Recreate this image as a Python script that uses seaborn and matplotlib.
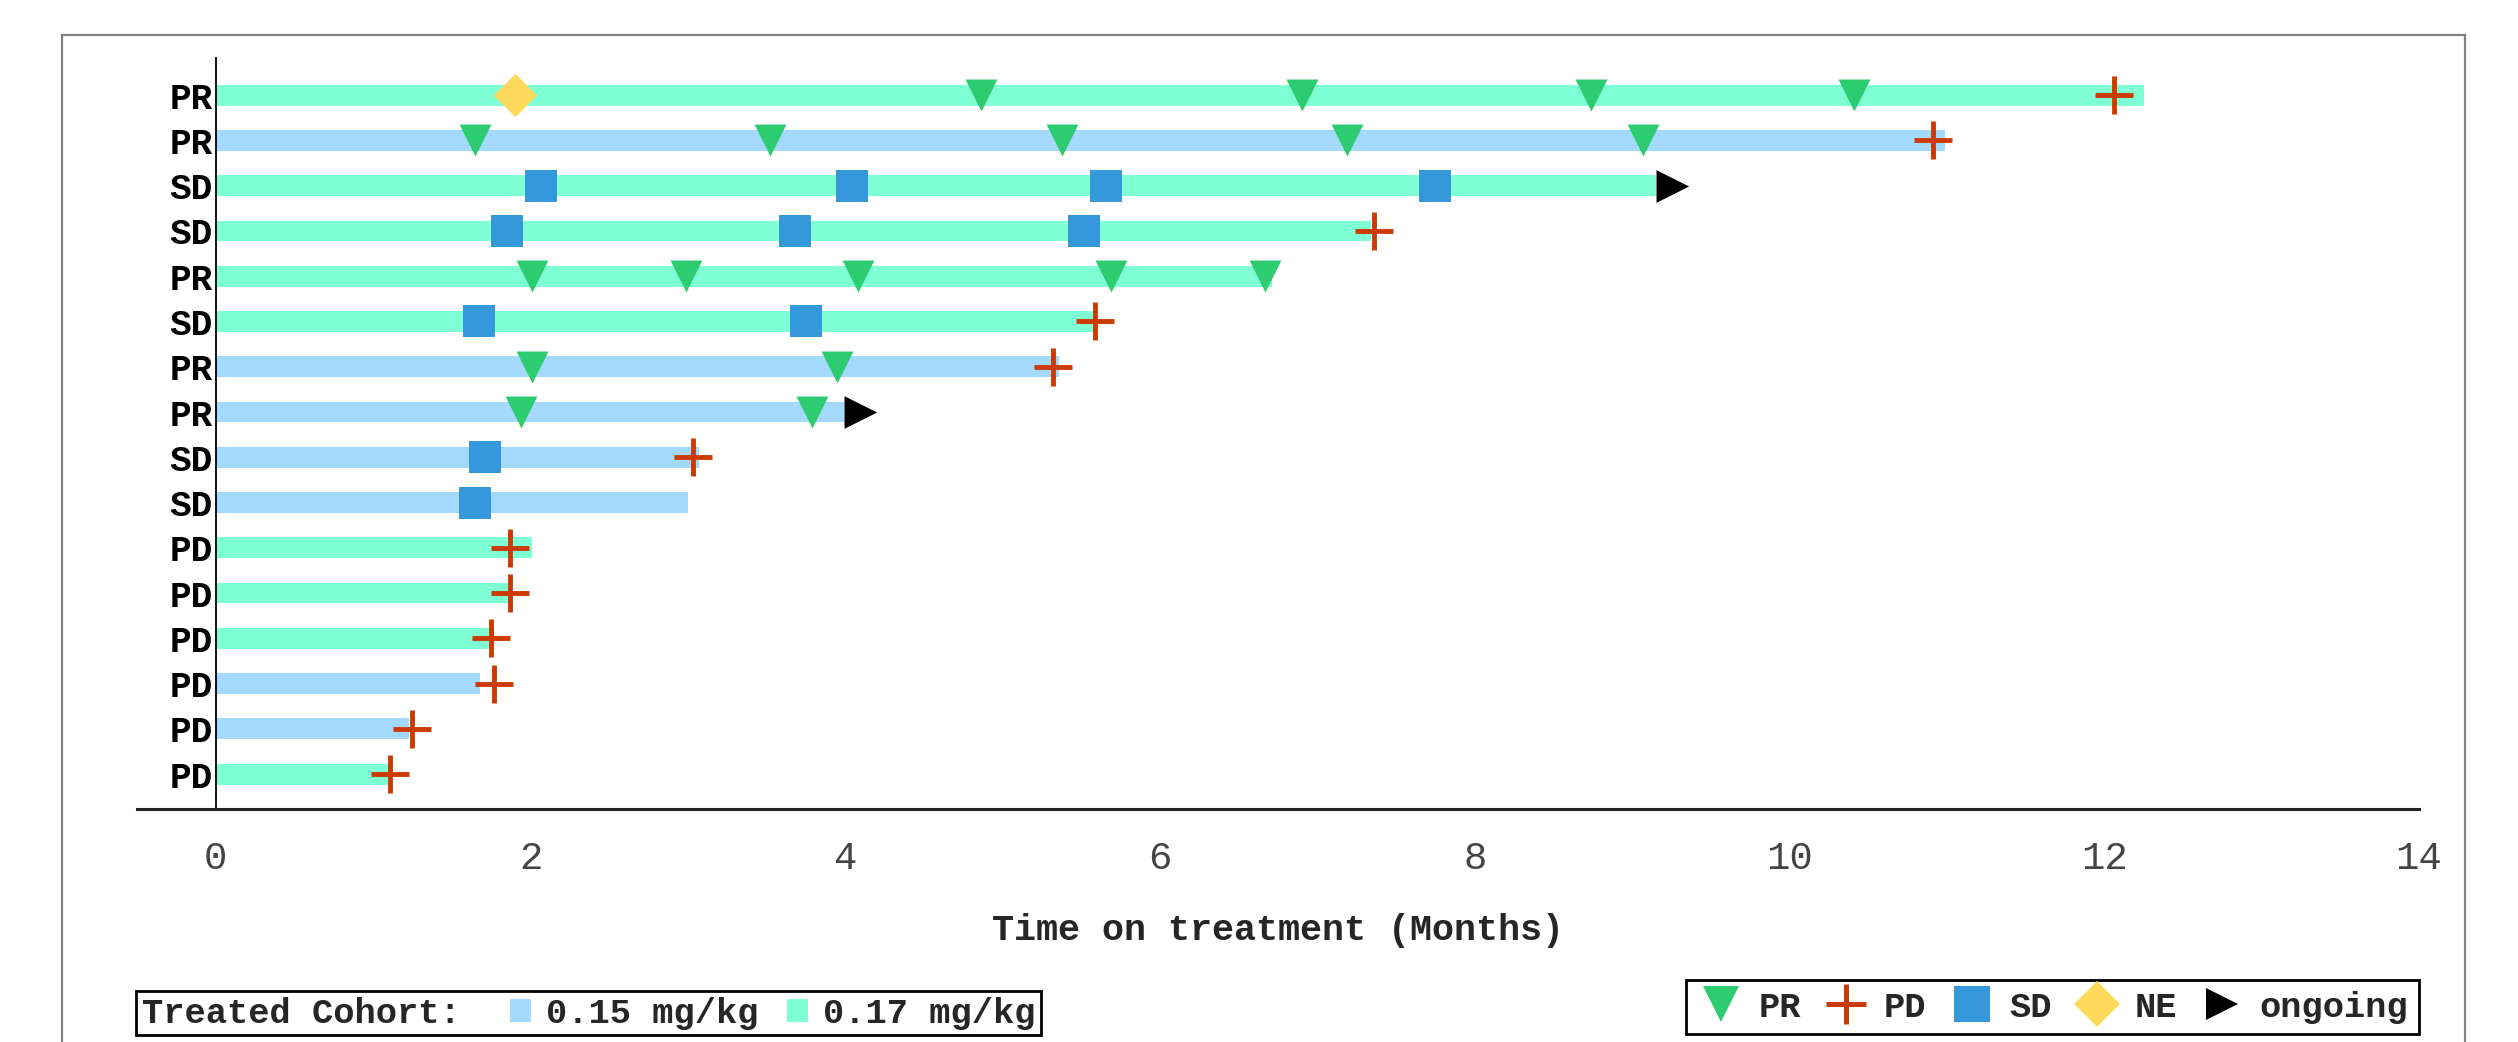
import matplotlib
matplotlib.use("Agg")
import matplotlib.pyplot as plt
import numpy as np
import pandas as pd
import seaborn as sns
from matplotlib.lines import Line2D
from matplotlib.patches import Patch, Rectangle

# --- data (months) ---
best_response = ['PR', 'PR', 'SD', 'SD', 'PR', 'SD', 'PR', 'PR',
                 'SD', 'SD', 'PD', 'PD', 'PD', 'PD', 'PD', 'PD']
cohort = ['0.17 mg/kg', '0.15 mg/kg', '0.17 mg/kg', '0.17 mg/kg',
          '0.17 mg/kg', '0.17 mg/kg', '0.15 mg/kg', '0.15 mg/kg',
          '0.15 mg/kg', '0.15 mg/kg', '0.17 mg/kg', '0.17 mg/kg',
          '0.17 mg/kg', '0.15 mg/kg', '0.15 mg/kg', '0.17 mg/kg']
duration = [12.25, 10.99, 9.15, 7.34, 6.71, 5.60, 5.36, 3.99,
            3.07, 3.00, 2.01, 1.88, 1.77, 1.68, 1.23, 1.11]

pr_rows = [0, 0, 0, 0, 1, 1, 1, 1, 1, 4, 4, 4, 4, 4, 6, 6, 7, 7]
pr_time = [4.86, 6.90, 8.74, 10.41, 1.65, 3.52, 5.38, 7.19, 9.07,
           2.01, 2.99, 4.08, 5.69, 6.67, 2.01, 3.95, 1.94, 3.79]

sd_rows = [2, 2, 2, 2, 3, 3, 3, 5, 5, 8, 9]
sd_time = [2.07, 4.04, 5.66, 7.75, 1.85, 3.68, 5.52, 1.67, 3.75, 1.71, 1.65]

pd_rows = [0, 1, 3, 5, 6, 8, 10, 11, 12, 13, 14, 15]
pd_time = [12.06, 10.91, 7.36, 5.59, 5.32, 3.03, 1.87, 1.87, 1.75, 1.77, 1.25, 1.11]

ne_rows = [0]
ne_time = [1.90]

ongoing_rows = [2, 7]

# colours
cohort_colors = {'0.15 mg/kg': '#a2d9fd', '0.17 mg/kg': '#7fffd4'}
c_pr = '#2ecc71'
c_pd = '#cc3a00'
c_sd = '#3498db'
c_ne = '#ffd95a'
c_on = 'black'

ids = [f"r{i:02d}" for i in range(len(duration))]
df = pd.DataFrame({'id': ids, 'duration': duration, 'cohort': cohort})

sns.set_style('white')
plt.rcParams['font.family'] = ['Liberation Mono', 'DejaVu Sans Mono']

fig = plt.figure(figsize=(25.18, 10.42), dpi=100)
ax = fig.add_axes([0.0544, 0.2236, 0.9063, 0.7207])

sns.barplot(data=df, x='duration', y='id', hue='cohort', order=ids,
            palette=cohort_colors, dodge=False, width=0.46, saturation=1,
            linewidth=0, legend=False, ax=ax, zorder=1)


def events(rows, times):
    return pd.DataFrame({'id': [ids[r] for r in rows], 'time': times})


ev = events(pr_rows, pr_time)
sns.scatterplot(data=ev, x='time', y='id', marker='v', s=23 ** 2,
                color=c_pr, linewidth=0, ax=ax, zorder=3)
ev = events(sd_rows, sd_time)
sns.scatterplot(data=ev, x='time', y='id', marker='s', s=23 ** 2,
                color=c_sd, linewidth=0, ax=ax, zorder=3)
ev = events(ne_rows, ne_time)
sns.scatterplot(data=ev, x='time', y='id', marker='D', s=22 ** 2,
                color=c_ne, linewidth=0, ax=ax, zorder=3)
ev = events(pd_rows, pd_time)
ax.scatter(ev['time'], ev['id'], marker='+', s=27 ** 2, color=c_pd,
           linewidths=3.5, zorder=4)
ev = events(ongoing_rows, [duration[r] for r in ongoing_rows])
arrow = [(0, -1), (0, 1), (2, 0), (0, -1)]
ax.scatter(ev['time'], ev['id'], marker=arrow, s=47 ** 2, color=c_on,
           linewidths=0, zorder=4)

# axes styling (spine position first: it resets the ticks)
for s in ['top', 'right']:
    ax.spines[s].set_visible(False)
ax.spines['left'].set_position(('data', 0))
ax.spines['left'].set_color('black')
ax.spines['left'].set_linewidth(1.3)
ax.spines['bottom'].set_color('#222222')
ax.spines['bottom'].set_linewidth(2.2)
ax.grid(False)

ax.set_xlim(-0.5, 14)
ax.set_ylim(15.77, -0.82)
ax.set_xticks(range(0, 15, 2))
ax.set_yticks(range(len(ids)))
ax.set_yticklabels(best_response, fontsize=26, fontweight='bold', color='black')
ax.tick_params(axis='y', length=0, pad=2)
ax.tick_params(axis='x', length=18, width=1.3, color='black', pad=5,
               labelsize=28, labelcolor='#444444', direction='out')
ax.set_xlabel('Time on treatment (Months)', fontsize=26.5, fontweight='bold',
              labelpad=26)
ax.set_ylabel('')

# legends
legend_font = {'weight': 'bold', 'size': 25.5}
blank = Patch(facecolor='none', edgecolor='none')
h_cohort = [blank,
            Patch(facecolor=cohort_colors['0.15 mg/kg'], edgecolor='none'),
            Patch(facecolor=cohort_colors['0.17 mg/kg'], edgecolor='none')]
leg1 = ax.legend(h_cohort, ['Treated Cohort: ', '0.15 mg/kg', '0.17 mg/kg'],
                 ncol=3, loc='lower left', bbox_to_anchor=(0.054, 0.0065),
                 bbox_transform=fig.transFigure, borderaxespad=0,
                 prop=legend_font, handlelength=0.6, handleheight=0.62,
                 handletextpad=0.42, columnspacing=0.8, borderpad=0.16,
                 frameon=True, fancybox=False, edgecolor='black', framealpha=1)
leg1.get_frame().set_linewidth(2)
# the title entry gets no handle space
first = leg1._legend_handle_box.get_children()[0].get_children()[0]
first.sep = 0
first.get_children()[0].width = 0
ax.add_artist(leg1)

h_resp = [Line2D([], [], ls='none', marker='v', ms=26, color=c_pr, mew=0),
          Line2D([], [], ls='none', marker='+', ms=29, color=c_pd, mew=3.6),
          Line2D([], [], ls='none', marker='s', ms=26.5, color=c_sd, mew=0),
          Line2D([], [], ls='none', marker='D', ms=23.4, color=c_ne, mew=0),
          Line2D([], [], ls='none', marker='>', ms=23, color=c_on, mew=0)]
leg2 = ax.legend(h_resp, ['PR', 'PD', 'SD', 'NE', 'ongoing'], ncol=5,
                 loc='lower right', bbox_to_anchor=(0.9607, 0.0075),
                 bbox_transform=fig.transFigure, borderaxespad=0,
                 prop=legend_font, handlelength=1.38, handleheight=0.7,
                 handletextpad=0.36, columnspacing=0.6, borderpad=0.3,
                 frameon=True, fancybox=False, edgecolor='black', framealpha=1)
leg2.get_frame().set_linewidth(2)

# outer grey frame
fig.patches.append(Rectangle((0.0246, -0.1), 0.9544, 1.0664, fill=False,
                             edgecolor='#808080', linewidth=1.6,
                             transform=fig.transFigure, figure=fig))

fig.savefig('out.png', dpi=100)
